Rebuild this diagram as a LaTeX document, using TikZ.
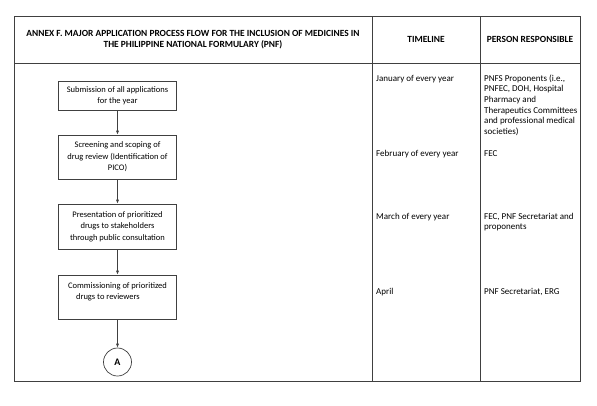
\documentclass[tikz,border=0pt]{standalone}
\usepackage{fontspec}
\setmainfont{Carlito}
\usepackage{tikz}
\usetikzlibrary{arrows.meta,positioning}
\tikzset{
  rule/.style={line width=0.7pt, color=black!75},
  stepbox/.style={draw=black!75, line width=0.7pt, minimum width=118pt, inner sep=2pt,
    align=center, font=\fontsize{8.5}{11.5}\selectfont},
  flow/.style={rule, -{Latex[length=4pt,width=3.2pt]}},
  cell/.style={anchor=base west, inner sep=0pt, align=left, font=\fontsize{9}{10.7}\selectfont},
  head/.style={inner sep=0pt, align=center, font=\fontsize{9.4}{10.5}\selectfont\bfseries}
}

\begin{document}
\begin{tikzpicture}[x=1pt,y=-1pt]
\useasboundingbox (0,0) rectangle (597,405);
% table frame
\draw[rule] (14,16) rectangle (580,381);
\draw[rule] (14,63)--(580,63);
\draw[rule] (372,16)--(372,381);
\draw[rule] (480,16)--(480,381);
% header
\node[head] (htitle) at (193,39.5) {ANNEX F. MAJOR APPLICATION PROCESS FLOW FOR THE INCLUSION OF MEDICINES IN\\THE PHILIPPINE NATIONAL FORMULARY (PNF)};
\node[head] (htime) at (426,39) {TIMELINE};
\node[head] (hperson) at (530,39) {PERSON RESPONSIBLE};
% process flow
\node[stepbox, minimum height=29pt] (submit) at (117.5,95.5) {Submission of all applications\\for the year};
\node[stepbox, minimum height=44pt] (screen) at (117.5,157) {Screening and scoping of\\drug review (Identification of\\PICO)};
\node[stepbox, minimum height=45pt] (present) at (117.5,226.5) {Presentation of prioritized\\drugs to stakeholders\\through public consultation};
\node[stepbox, minimum height=44pt, align=left] (commission) at (117.5,297) {Commissioning of prioritized\\\hspace*{8pt}drugs to reviewers\\~};
\node[draw=black!75, line width=0.7pt, circle, minimum size=28pt, inner sep=0pt,
  font=\fontsize{10}{12}\selectfont\bfseries] (conn) at (117.5,362) {A};
\draw[flow] (submit) -- (screen);
\draw[flow] (screen) -- (present);
\draw[flow] (present) -- (commission);
\draw[flow] (commission) -- (conn);
% timeline
\node[cell] (tjan) at (376,81) {January of every year};
\node[cell] (tfeb) at (376,156) {February of every year};
\node[cell] (tmar) at (376,219) {March of every year};
\node[cell] (tapr) at (376,294) {April};
% person responsible (base = last line)
\node[cell] (pjan) at (484,134.5) {PNFS Proponents (i.e.,\\PNFEC, DOH, Hospital\\Pharmacy and\\Therapeutics Committees\\and professional medical\\societies)};
\node[cell] (pfeb) at (484,156) {FEC};
\node[cell] (pmar) at (484,229.7) {FEC, PNF Secretariat and\\proponents};
\node[cell] (papr) at (484,294) {PNF Secretariat, ERG};
\end{tikzpicture}
\end{document}
